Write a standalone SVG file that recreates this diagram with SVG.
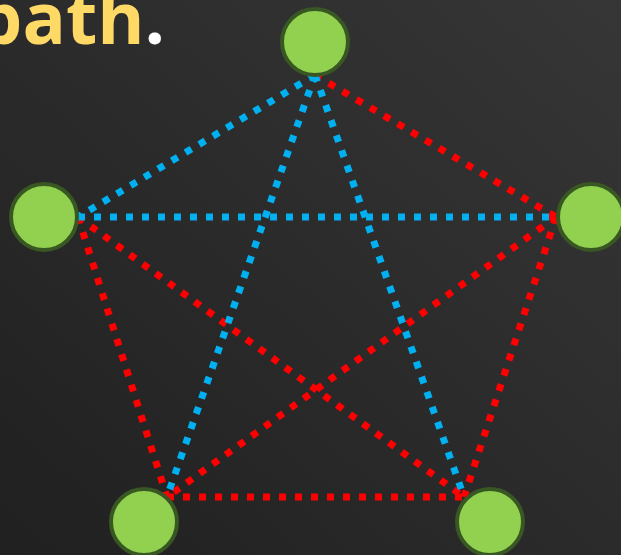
<svg xmlns="http://www.w3.org/2000/svg" width="621" height="555" viewBox="0 0 621 555">
<defs>
<linearGradient id="bg" x1="0" y1="1" x2="1" y2="0">
<stop offset="0" stop-color="#202020"/>
<stop offset="1" stop-color="#363636"/>
</linearGradient>
<style>
.node{fill:#92d050;stroke:#385723;stroke-width:4}
.b{stroke:#00b0f0;stroke-width:7;stroke-dasharray:7 9;fill:none}
.r{stroke:#ff0000;stroke-width:7;stroke-dasharray:7 9;fill:none}
.t{font-family:"Open Sans",sans-serif;font-weight:bold;font-size:72px}
</style>
</defs>
<rect width="621" height="555" fill="url(#bg)"/>
<text class="t" x="165" y="44" text-anchor="end"><tspan fill="#ffd966">path</tspan><tspan fill="#ffffff">.</tspan></text>
<g id="connectors">
<line class="r" x1="315" y1="75" x2="556" y2="217"/>
<line class="r" x1="78" y1="217" x2="167" y2="497"/>
<line class="r" x1="78" y1="217" x2="464" y2="497"/>
<line class="r" x1="556" y1="217" x2="167" y2="497"/>
<line class="r" x1="556" y1="217" x2="464" y2="497"/>
<line class="r" x1="167" y1="497" x2="464" y2="497"/>
<line class="b" x1="315" y1="75" x2="78" y2="217"/>
<line class="b" x1="315" y1="75" x2="167" y2="497"/>
<line class="b" x1="315" y1="75" x2="464" y2="497"/>
<line class="b" x1="78" y1="217" x2="556" y2="217"/>
</g>
<g id="n1"><circle class="node" cx="315" cy="42" r="33"/></g>
<g id="n2"><circle class="node" cx="44" cy="217" r="33"/></g>
<g id="n3"><circle class="node" cx="591" cy="217" r="33"/></g>
<g id="n4"><circle class="node" cx="144" cy="522" r="33"/></g>
<g id="n5"><circle class="node" cx="490" cy="522" r="33"/></g>
</svg>
